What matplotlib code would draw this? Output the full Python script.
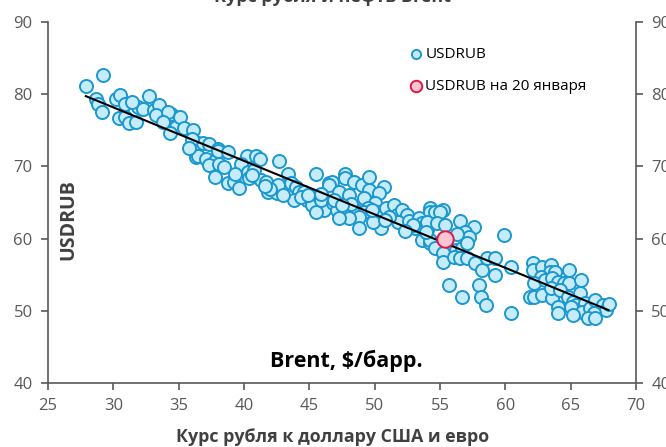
import numpy as np
import matplotlib
matplotlib.use("Agg")
import matplotlib.pyplot as plt

# ------------------------------------------------------------
# Data: Brent ($/bbl) vs USDRUB
# ------------------------------------------------------------
brent = [
    27.9, 29.2, 28.7, 28.8, 29.1, 30.2, 30.5, 30.9, 30.4, 30.9,
    31.2, 31.7, 31.9, 32.3, 32.7, 33.1, 33.5, 33.3, 34.0, 34.4,
    34.2, 34.8, 35.1, 35.4, 36.1, 34.3, 36.5, 36.9, 37.3, 36.3,
    36.5, 37.1, 38.0, 37.8, 38.0, 38.8, 37.3, 38.1, 38.5, 37.8,
    38.8, 39.2, 39.6, 40.2, 40.9, 41.2, 42.7, 39.8, 40.3, 40.8,
    40.4, 41.3, 41.7, 41.8, 42.5, 42.6, 43.4, 43.6, 44.0, 44.2,
    43.8, 44.6, 44.8, 45.2, 45.5, 45.8, 46.1, 46.5, 46.1, 45.5,
    44.4, 46.7, 46.5, 47.7, 47.7, 48.4, 49.0, 49.6, 49.6, 50.7,
    50.3, 47.3, 48.0, 45.9, 46.8, 47.1, 47.8, 48.5, 49.2, 50.0,
    49.5, 49.2, 48.8, 48.8, 48.0, 47.3, 50.3, 50.5, 49.9, 50.9,
    51.5, 51.7, 52.1, 52.5, 51.8, 52.6, 53.4, 53.6, 53.1, 54.2,
    54.2, 54.6, 55.2, 54.9, 54.0, 53.6, 54.2, 55.3, 55.0, 54.0,
    54.8, 55.4, 56.5, 57.6, 56.9, 57.2, 56.3, 54.2, 54.6, 55.2,
    55.2, 56.2, 56.7, 57.1, 56.1, 56.5, 57.1, 57.7, 58.2, 58.6,
    59.2, 59.2, 59.9, 60.4, 55.7, 58.0, 56.7, 58.1, 58.5, 60.4,
    62.1, 61.9, 62.1, 62.8, 63.5, 63.4, 63.8, 62.7, 62.2, 63.0,
    63.6, 64.0, 64.5, 64.9, 64.9, 65.8, 62.2, 62.8, 63.6, 63.5,
    64.2, 64.8, 65.7, 65.2, 65.4, 66.1, 64.0, 64.0, 65.0, 65.9,
    66.5, 66.9, 67.5, 67.7, 67.9, 66.8, 66.3, 66.9, 65.2,
    # extra points in the dense middle of the cloud
    42.0, 43.0, 44.9, 45.9, 46.9, 48.2, 49.8, 51.1, 52.9, 53.9,
    39.3, 40.6, 41.6, 36.0, 35.8, 33.8, 31.4, 47.5, 50.8, 52.3,
]
usdrub = [
    81.2, 82.6, 79.4, 78.7, 77.5, 79.4, 79.9, 78.6, 76.7, 76.8,
    76.0, 76.1, 78.2, 78.0, 79.7, 77.8, 78.5, 77.1, 76.4, 77.2,
    77.5, 75.4, 76.8, 75.3, 75.1, 74.6, 73.3, 73.3, 73.1, 71.3,
    71.5, 71.0, 72.4, 70.7, 72.2, 72.0, 70.2, 70.4, 69.9, 68.5,
    67.7, 67.9, 67.0, 71.5, 71.5, 71.0, 70.8, 70.4, 69.2, 69.5,
    68.4, 68.1, 67.8, 66.4, 66.3, 67.4, 69.0, 67.7, 67.1, 66.4,
    65.3, 66.4, 65.3, 64.6, 69.0, 65.6, 64.9, 67.7, 63.9, 63.7,
    65.7, 67.8, 67.4, 69.0, 68.4, 67.8, 67.4, 68.5, 66.8, 67.1,
    66.3, 66.4, 66.0, 65.3, 64.9, 63.9, 63.5, 63.9, 65.6, 65.0,
    64.3, 63.7, 63.0, 61.4, 62.8, 62.8, 63.7, 61.4, 62.3, 64.2,
    64.6, 63.2, 63.9, 63.2, 62.3, 62.5, 62.8, 62.1, 61.4, 64.2,
    63.7, 63.7, 63.9, 62.3, 61.2, 59.8, 59.4, 58.8, 63.7, 62.3,
    62.1, 61.9, 62.5, 61.6, 60.9, 60.2, 60.7, 59.8, 58.7, 58.0,
    56.7, 58.4, 58.7, 59.4, 57.4, 57.3, 57.3, 56.6, 55.6, 57.3,
    57.3, 54.9, 60.5, 56.0, 53.6, 53.6, 51.9, 51.9, 50.8, 49.7,
    56.6, 51.9, 55.6, 56.0, 56.3, 55.4, 55.4, 54.7, 53.8, 54.2,
    54.5, 54.0, 53.8, 55.6, 53.8, 54.2, 51.9, 52.2, 51.8, 53.1,
    52.9, 51.9, 52.4, 51.2, 50.8, 51.1, 50.5, 49.7, 50.5, 49.8,
    50.4, 51.5, 50.8, 50.1, 50.9, 49.7, 49.0, 49.0, 49.4,
    66.9, 66.0, 66.0, 66.2, 65.4, 64.8, 64.0, 63.0, 61.9, 60.9,
    68.9, 68.8, 67.3, 73.8, 72.6, 76.2, 78.9, 64.6, 62.6, 61.0,
]

# point for 20 January
jan20_brent = [55.4]
jan20_usdrub = [59.9]

x = np.array(brent)
y = np.array(usdrub)

# ------------------------------------------------------------
# Style
# ------------------------------------------------------------
plt.rcParams["font.family"] = ["Open Sans", "DejaVu Sans"]
GREY = "#595959"
TXT = "#404040"

fig = plt.figure(figsize=(6.66, 4.47), dpi=100)
ax = fig.add_axes([48 / 666, 64 / 447, 588 / 666, 361 / 447])

ax.scatter(x, y, s=88, facecolor="#c6ecfb", edgecolor="#1b98d0",
           linewidth=1.4, label="USDRUB", zorder=2)

# linear trend
k, b = np.polyfit(x, y, 1)
xs = np.array([x.min(), x.max()])
ax.plot(xs, k * xs + b, color="black", linewidth=1.5, zorder=3)

ax.scatter(jan20_brent, jan20_usdrub, s=140, facecolor="#f9c6d2",
           edgecolor="#e0174b", linewidth=1.4,
           label="USDRUB на 20 января", zorder=4)

ax.set_xlim(25, 70)
ax.set_ylim(40, 90)
ax.set_xticks(np.arange(25, 71, 5))
ax.set_yticks(np.arange(40, 91, 10))

ax.spines["top"].set_visible(False)
for side in ["left", "right", "bottom"]:
    ax.spines[side].set_color(GREY)
    ax.spines[side].set_linewidth(1.2)
ax.tick_params(axis="both", direction="out", length=5, width=1.2,
               color=GREY, labelcolor=GREY, labelsize=12, pad=6)
ax.tick_params(axis="y", right=True, labelright=True)

ax.legend(loc="upper left", bbox_to_anchor=(0.59, 0.97), frameon=False,
          fontsize=11, markerscale=0.7, handletextpad=0.1,
          handlelength=1.0, labelspacing=1.15, labelcolor="black")

# ------------------------------------------------------------
# Texts
# ------------------------------------------------------------
fig.text(333 / 666, 1 + 3 / 447, "Курс рубля и нефть Brent", ha="center",
         va="center", fontsize=13, fontweight="bold", color=TXT)
fig.text(68 / 666, 1 - 220 / 447, "USDRUB", ha="center", va="center",
         rotation=90, fontsize=14, fontweight="bold", color=TXT)
fig.text(346 / 666, 1 - 361 / 447, "Brent, $/барр.", ha="center",
         va="center", fontsize=15.5, fontweight="bold", color="black")
fig.text(333 / 666, 1 - 437 / 447, "Курс рубля к доллару США и евро",
         ha="center", va="center", fontsize=12.8, fontweight="bold",
         color=TXT)

fig.savefig("out.png", dpi=100)
